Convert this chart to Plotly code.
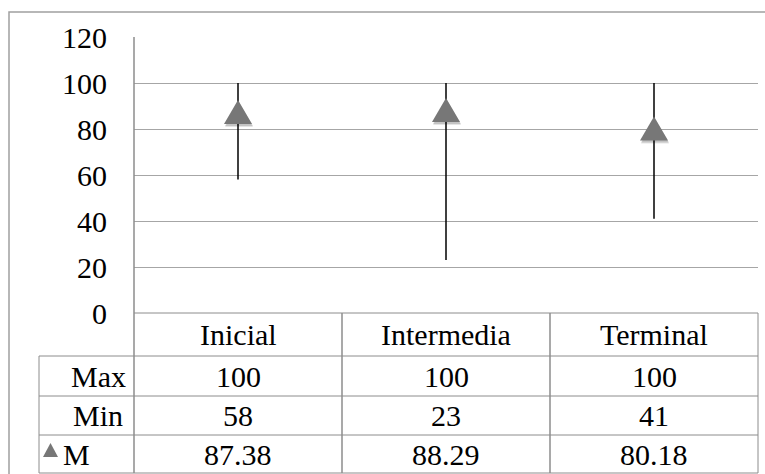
import plotly.graph_objects as go

# Data
categories = ["Inicial", "Intermedia", "Terminal"]
max_vals = [100, 100, 100]
min_vals = [58, 23, 41]
mean_vals = [87.38, 88.29, 80.18]
row_labels = ["Max", "Min", "M"]
y_ticks = [0, 20, 40, 60, 80, 100, 120]

W, H = 765, 474
L, R, T, B = 134, 758, 37, 313  # plot area in pixels
FONT = "Times New Roman, Liberation Serif, Tinos, DejaVu Serif, serif"
GRID = "#a6a6a6"
TABLE = "#8c8c8c"
TRI = "#777777"


def px_x(p):
    return (p - L) / (R - L)


def px_y(p):
    return (B - p) / (B - T)


fig = go.Figure()

# high-low lines
lx, ly = [], []
for i, (lo, hi) in enumerate(zip(min_vals, max_vals)):
    lx += [i, i, None]
    ly += [lo, hi, None]
fig.add_trace(go.Scatter(x=lx, y=ly, mode="lines",
                         line=dict(color="black", width=1.5),
                         hoverinfo="skip", showlegend=False))

shapes = []
# mean markers (equilateral triangles with soft shadow)
tri = "M-14,-12 L14,-12 L0,12 Z"
for i, m in enumerate(mean_vals):
    for dx, dy, op in [(1, -3, 0.10), (1, -2, 0.15)]:
        shapes.append(dict(type="path", xref="x", yref="y", xsizemode="pixel",
                           ysizemode="pixel", xanchor=i, yanchor=m,
                           path=f"M{-14+dx},{-12+dy} L{14+dx},{-12+dy} L{dx},{12+dy} Z",
                           fillcolor=f"rgba(0,0,0,{op})", line=dict(width=0),
                           layer="above"))
    shapes.append(dict(type="path", xref="x", yref="y", xsizemode="pixel",
                       ysizemode="pixel", xanchor=i, yanchor=m, path=tri,
                       fillcolor=TRI, line=dict(width=0), layer="above"))

# data table geometry
rows = [313, 356, 396, 435, 473]
label_left = 39
col_edges = [L + k * (R - L) / len(categories) for k in range(len(categories) + 1)]


def hline(y, x0, x1, color=TABLE, w=1):
    shapes.append(dict(type="line", xref="paper", yref="paper",
                       x0=px_x(x0), x1=px_x(x1), y0=px_y(y), y1=px_y(y),
                       line=dict(color=color, width=w), layer="above"))


def vline(x, y0, y1, color=TABLE, w=1):
    shapes.append(dict(type="line", xref="paper", yref="paper",
                       x0=px_x(x), x1=px_x(x), y0=px_y(y0), y1=px_y(y1),
                       line=dict(color=color, width=w), layer="above"))


hline(rows[0], L, R)
for y in rows[1:]:
    hline(y, label_left, R)
vline(label_left, rows[1], rows[-1])
vline(L, T, rows[-1], w=1.5)
for x in col_edges[1:-1]:
    vline(x, rows[0], rows[-1], w=1.5)
vline(R, rows[0], rows[-1])

# outer chart frame
shapes.append(dict(type="rect", xref="paper", yref="paper",
                   x0=px_x(9), x1=px_x(W + 5), y0=px_y(12), y1=px_y(H + 5),
                   line=dict(color="#a0a0a0", width=1.5), fillcolor="rgba(0,0,0,0)",
                   layer="below"))

# legend key in the M row
kx0, kx1, ky0, ky1 = 43, 58, 457, 443
shapes.append(dict(type="path", xref="paper", yref="paper",
                   path=f"M{px_x(kx0)},{px_y(ky0)} L{px_x(kx1)},{px_y(ky0)} "
                        f"L{px_x((kx0 + kx1) / 2)},{px_y(ky1)} Z",
                   fillcolor=TRI, line=dict(width=0), layer="above"))

annotations = []


def cell_text(text, xc, yc, anchor="center"):
    annotations.append(dict(text=text, x=px_x(xc), y=px_y(yc), xref="paper",
                            yref="paper", xanchor=anchor, yanchor="middle",
                            showarrow=False, font=dict(family=FONT, size=30, color="black")))


centers = [(col_edges[k] + col_edges[k + 1]) / 2 for k in range(len(categories))]
for k, c in enumerate(categories):
    cell_text(c, centers[k], (rows[0] + rows[1]) / 2)
table_rows = [
    [str(v) for v in max_vals],
    [str(v) for v in min_vals],
    [f"{v:.2f}" for v in mean_vals],
]
label_x = [69, 71, 61]
for r, (lab, vals) in enumerate(zip(row_labels, table_rows)):
    yc = (rows[r + 1] + rows[r + 2]) / 2
    cell_text(lab, label_x[r], yc, anchor="left")
    for k, v in enumerate(vals):
        cell_text(v, centers[k], yc)

fig.update_layout(
    width=W, height=H,
    margin=dict(l=L, r=W - R, t=T, b=H - B),
    paper_bgcolor="white", plot_bgcolor="white",
    showlegend=False,
    font=dict(family=FONT, size=30, color="black"),
    shapes=shapes, annotations=annotations,
    xaxis=dict(range=[-0.5, len(categories) - 0.5], showgrid=False, zeroline=False,
               showticklabels=False, ticks="", showline=False, fixedrange=True),
    yaxis=dict(range=[0, 120], tickvals=y_ticks, showgrid=True, gridcolor=GRID,
               gridwidth=1, zeroline=False, showline=False, ticks="",
               ticklabelstandoff=26,
               tickfont=dict(family=FONT, size=30, color="black"), fixedrange=True),
)

fig.write_html("out.html")
